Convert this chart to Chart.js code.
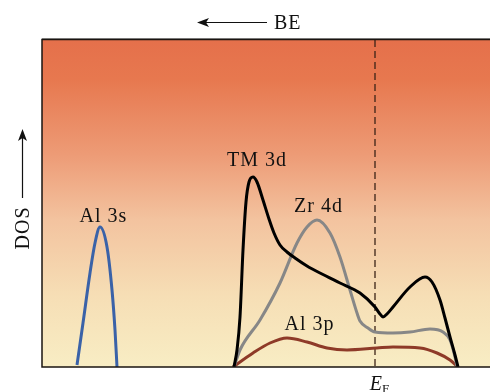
<!DOCTYPE html>
<html><head><meta charset="utf-8">
<script src="https://cdn.jsdelivr.net/npm/chart.js@4/dist/chart.umd.min.js"></script>
<style>html,body{margin:0;padding:0;background:#fff;}canvas{display:block;}</style>
</head><body>
<canvas id="c" width="490" height="392"></canvas>
<script>
// Energy (arbitrary units, increasing to the right) and DOS (arbitrary units)
const energyAl3s = [35, 41, 48, 53, 58, 65, 70, 73, 75];
const dosAl3s    = [2, 44, 94, 124, 140, 120, 77, 37, 0];

const energyTM3d = [192, 195, 198, 201, 204, 207, 211, 215, 221, 227, 232, 238, 245, 253, 265, 278, 298, 318, 333, 338, 341, 345, 351, 368, 383, 390, 398, 403, 408, 413, 416];
const dosTM3d    = [0, 17, 50, 117, 165, 185, 190, 185, 167, 148, 134, 122, 115, 109, 101, 94, 84, 74, 60, 53, 50, 53, 60, 80, 90, 85, 67, 49, 30, 12, 0];

const energyZr4d = [192, 198, 218, 238, 255, 265, 275, 288, 298, 308, 315, 318, 326, 333, 351, 368, 388, 401, 408, 413, 415];
const dosZr4d    = [0, 17, 47, 84, 124, 140, 147, 134, 110, 77, 54, 46, 39, 35, 34, 35, 38, 35, 27, 10, 0];

const energyAl3p = [191, 211, 228, 245, 265, 285, 305, 335, 351, 378, 395, 408, 416];
const dosAl3p    = [0, 14, 24, 29, 25, 19, 17, 19, 20, 19, 14, 7, 0];

const fermiEnergy = 333;
const seriesLabels = ["Al 3s", "TM 3d", "Zr 4d", "Al 3p"];
const seriesColors = ["#3a62a8", "#000000", "#878787", "#8e3a28"];
const labelPos = [[61.5, 145], [215, 201], [276.5, 155], [267.5, 37]];

function pts(xs, ys){ return xs.map((x,i)=>({x:x, y:ys[i]})); }

const SERIF = '"Liberation Serif", "DejaVu Serif", serif';

const bgPlugin = {
  id: 'bg',
  beforeDraw(chart){
    const {ctx, chartArea:a} = chart;
    const g = ctx.createLinearGradient(0, a.top, 0, a.bottom);
    g.addColorStop(0, '#e5704b');
    g.addColorStop(0.12, '#e7784f');
    g.addColorStop(0.35, '#ed9b76');
    g.addColorStop(0.55, '#f3c39f');
    g.addColorStop(0.78, '#f6deb5');
    g.addColorStop(1, '#f8edc4');
    ctx.save();
    ctx.fillStyle = g;
    ctx.fillRect(a.left, a.top, a.right - a.left, a.bottom - a.top);
    ctx.restore();
  },
  beforeDatasetsDraw(chart){
    const {ctx, chartArea:a, scales} = chart;
    const xf = scales.x.getPixelForValue(fermiEnergy);
    ctx.save();
    ctx.strokeStyle = '#3c2418';
    ctx.lineWidth = 1.3;
    ctx.setLineDash([7, 4]);
    ctx.beginPath();
    ctx.moveTo(xf, a.top);
    ctx.lineTo(xf, a.bottom);
    ctx.stroke();
    ctx.restore();
  },
  afterDraw(chart){
    const {ctx, chartArea:a, scales} = chart;
    ctx.save();
    // frame
    ctx.strokeStyle = '#9a9a9a';
    ctx.lineWidth = 1;
    ctx.beginPath(); ctx.moveTo(a.left, a.top - 1.5); ctx.lineTo(a.right, a.top - 1.5); ctx.stroke();
    ctx.strokeStyle = '#1a1410';
    ctx.lineWidth = 1.5;
    ctx.beginPath();
    ctx.moveTo(a.right, a.top - 0.5);
    ctx.lineTo(a.left, a.top - 0.5);
    ctx.lineTo(a.left, a.bottom);
    ctx.lineTo(a.right, a.bottom);
    ctx.stroke();
    // series labels
    ctx.fillStyle = '#111';
    ctx.font = '20px ' + SERIF;
    ctx.letterSpacing = '1px';
    ctx.textAlign = 'center';
    ctx.textBaseline = 'alphabetic';
    seriesLabels.forEach((t,i)=>{
      ctx.fillText(t, scales.x.getPixelForValue(labelPos[i][0]), scales.y.getPixelForValue(labelPos[i][1]));
    });
    // BE arrow
    ctx.strokeStyle = '#111';
    ctx.lineWidth = 1.2;
    ctx.beginPath(); ctx.moveTo(205, 22.5); ctx.lineTo(267, 22.5); ctx.stroke();
    ctx.fillStyle = '#111';
    ctx.beginPath(); ctx.moveTo(197, 22.5); ctx.lineTo(209, 18); ctx.lineTo(206, 22.5); ctx.lineTo(209, 27); ctx.closePath(); ctx.fill();
    ctx.textAlign = 'left';
    ctx.fillText('BE', 274, 28.5);
    // DOS arrow
    ctx.beginPath(); ctx.moveTo(22.5, 198); ctx.lineTo(22.5, 138); ctx.stroke();
    ctx.beginPath(); ctx.moveTo(22.5, 129); ctx.lineTo(18, 141); ctx.lineTo(22.5, 138); ctx.lineTo(27, 141); ctx.closePath(); ctx.fill();
    ctx.save();
    ctx.translate(28.5, 228);
    ctx.rotate(-Math.PI/2);
    ctx.textAlign = 'center';
    ctx.fillText('DOS', 0, 0);
    ctx.restore();
    // E_F
    ctx.letterSpacing = '0px';
    const xf = scales.x.getPixelForValue(fermiEnergy);
    ctx.font = 'italic 20px ' + SERIF;
    ctx.textAlign = 'right';
    ctx.fillText('E', xf + 7, 390);
    ctx.font = '13px ' + SERIF;
    ctx.textAlign = 'left';
    ctx.fillText('F', xf + 7, 393);
    ctx.restore();
  }
};

const sets = [[energyAl3s, dosAl3s], [energyTM3d, dosTM3d], [energyZr4d, dosZr4d], [energyAl3p, dosAl3p]];
const datasets = sets.map((s,i)=>({
  label: seriesLabels[i],
  data: pts(s[0], s[1]),
  borderColor: seriesColors[i],
  borderWidth: 3,
  pointRadius: 0,
  showLine: true,
  tension: 0.4,
  cubicInterpolationMode: 'monotone',
  fill: false,
  order: i === 1 ? 0 : (i === 2 ? 1 : 2)
}));

new Chart(document.getElementById('c'), {
  type: 'scatter',
  data: { datasets },
  options: {
    responsive: false,
    animation: false,
    layout: { padding: { left: 42, right: 0, top: 40, bottom: 25 } },
    scales: {
      x: { type: 'linear', min: 0, max: 448, display: false },
      y: { type: 'linear', min: 0, max: 327, display: false }
    },
    plugins: { legend: { display: false }, tooltip: { enabled: false } }
  },
  plugins: [bgPlugin]
});
</script>
</body></html>
